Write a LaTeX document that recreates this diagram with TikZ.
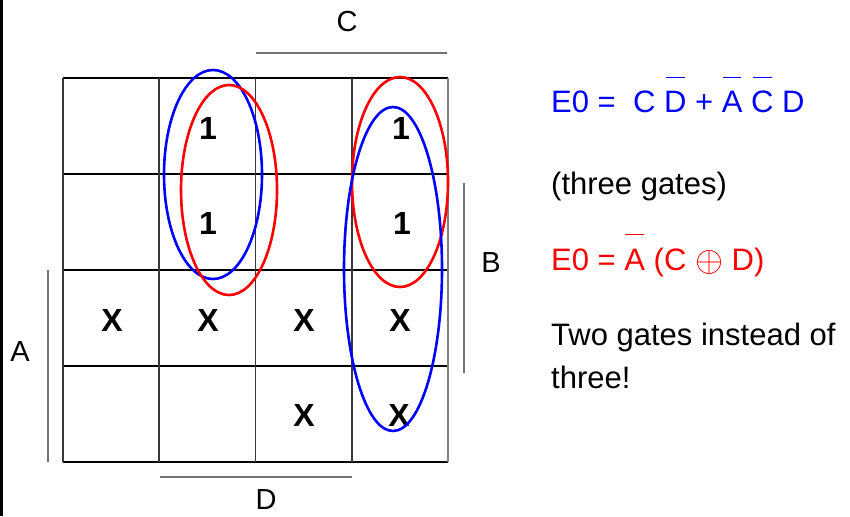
\documentclass[tikz,border=0pt]{standalone}
\usepackage{fontspec}
\setmainfont{Liberation Sans}
\usepackage{xcolor}
\usepackage{graphicx}
\usepackage{tikz}
\newcommand\negl[1]{\ooalign{#1\cr\hidewidth\rule[1.12em]{0.6em}{0.05em}\hidewidth\cr}}

\begin{document}
\begin{tikzpicture}[x=1pt,y=-1pt,
    cellval/.style={font=\fontsize{32}{38}\selectfont\bfseries,inner sep=0pt},
    varlabel/.style={font=\fontsize{29}{34}\selectfont,inner sep=0pt},
    eqn/.style={font=\fontsize{31}{43}\selectfont,anchor=base west,inner sep=0pt,align=left},
    varbar/.style={draw=gray!90!black,line width=1.6pt},
    group/.style={line width=2.6pt}
  ]
    \useasboundingbox (0,0) rectangle (850,516);
    \draw[line width=3pt] (1.5,0) -- (1.5,516);
    % map grid
    \foreach \r in {0,...,4}
      \draw[line width=1.4pt] (63,78+96*\r) -- (448,78+96*\r);
    \foreach \c in {0,...,3}
      \draw[line width=1.7pt,black!78] (63+96.25*\c,78) -- (63+96.25*\c,462);
    \draw[line width=1.7pt,gray] (448,78) -- (448,462);
    % variable bars
    \draw[varbar] (256,53) -- (447,53);
    \draw[varbar] (464,183) -- (464,373);
    \draw[varbar] (48,270) -- (48,462);
    \draw[varbar] (160,477) -- (352,477);
    \node[varlabel] (labC) at (347,22) {C};
    \node[varlabel] (labB) at (491,263) {B};
    \node[varlabel] (labA) at (20,352) {A};
    \node[varlabel] (labD) at (266,500) {D};
    % cell values
    \node[cellval] (m1) at (208,128) {1};
    \node[cellval] (m5) at (208,223) {1};
    \node[cellval] (m3) at (401,128) {1};
    \node[cellval] (m7) at (402,223) {1};
    \foreach \xc/\nm in {112/12,208/13,304/15,400/14}
      \node[cellval] (x\nm) at (\xc,320) {X};
    \node[cellval] (x11) at (304,415) {X};
    \node[cellval] (x10) at (399,415) {X};
    % groups
    \draw[group,blue] (213,174.5) ellipse (49 and 104.5);
    \draw[group,red] (229,190) ellipse (48 and 105);
    \draw[group,red] (400,182) ellipse (48 and 105);
    \draw[group,blue] (393,269) ellipse (49 and 162);
    % equations
    \node[eqn,text=blue] (eqA) at (551,113)
      {E0 =\ \ C \negl{D} + \negl{A} \negl{C} D};
    \node[eqn] (note1) at (551,194) {(three gates)};
    \node[eqn,text=red] (eqB) at (551,270)
      {E0 = \negl{A} (C \raisebox{-1.5pt}{\scalebox{1.45}{$\oplus$}} D)};
    \node[eqn] (note2) at (551,388) {Two gates instead of\\three!};
  \end{tikzpicture}
\end{document}
